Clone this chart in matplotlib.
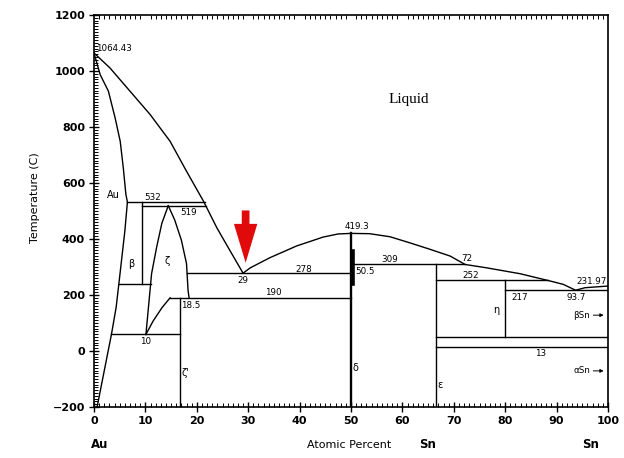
import matplotlib
matplotlib.use('Agg')
import matplotlib.pyplot as plt
from matplotlib.ticker import MultipleLocator

# Au-Sn phase diagram
# liquidus, Au side down to the 29 % eutectic
liq_au_x = [0, 3.1, 7.0, 10.9, 14.8, 18.0, 21.3, 23.9, 26.5, 29.0]
liq_au_t = [1064.43, 1011, 928, 845, 749, 642, 535, 440, 357, 278]
# liquidus, eutectic up to delta (50 %)
liq_mid_x = [29.0, 30.4, 34.2, 39.4, 44.6, 47.5, 50.0]
liq_mid_t = [278, 297, 333, 375, 407, 418, 420]
# liquidus, delta down to Sn
liq_sn_x = [50.0, 53.6, 57.6, 61.5, 65.4, 69.3, 72.2, 76.4, 82.9, 88.3, 91.3, 93.7, 95.5, 100]
liq_sn_t = [420, 419, 408, 386, 363, 339, 309, 297, 276, 252, 238, 217, 226, 231.97]
# Au solid solution boundary (solidus + solvus)
au_ss_x = [0, 1.2, 2.8, 4.1, 5.1, 5.7, 6.2, 6.5, 6.0, 4.9, 4.3, 3.4, 0.6]
au_ss_t = [1064.43, 987, 928, 833, 749, 654, 560, 532, 428, 250, 155, 60, -200]
# zeta phase field
zeta_left_x = [14.45, 13.2, 12.2, 11.2, 10.6, 10.1]
zeta_left_t = [519, 456, 372, 276, 157, 59]
zeta_right_x = [14.45, 15.7, 17.0, 18.0, 18.3, 18.5]
zeta_right_t = [519, 468, 396, 312, 216, 190]
zeta_low_x = [10.1, 11.5, 13.2, 14.8]
zeta_low_t = [59, 107, 154, 190]

# invariant lines: (x start, x end, temperature)
horiz = [(6.5, 21.6, 532), (9.3, 21.8, 519), (4.8, 11.0, 240), (3.4, 16.7, 59),
         (14.8, 50, 190), (18.0, 50, 278), (50.5, 72.2, 309), (66.5, 88.3, 252),
         (80, 100, 217), (66.5, 100, 50), (66.5, 100, 13)]
# compound lines: (x, t bottom, t top)
vert = [(9.3, 240, 532), (16.7, -200, 190), (66.5, -200, 309), (80, 50, 252)]

# text labels: (x, t, text)
small_labels = [(0.3, 1081, '1064.43', 'left'), (11.4, 548, '532', 'center'),
                (18.4, 494, '519', 'center'), (18.9, 164, '18.5', 'center'),
                (10.1, 33, '10', 'center'), (29.0, 252, '29', 'center'),
                (40.9, 292, '278', 'center'), (34.8, 208, '190', 'center'),
                (51.1, 443, '419.3', 'center'), (52.7, 283, '50.5', 'center'),
                (57.6, 325, '309', 'center'), (72.5, 331, '72', 'center'),
                (73.2, 268, '252', 'center'), (82.9, 190, '217', 'center'),
                (93.9, 190, '93.7', 'center'), (96.8, 250, '231.97', 'center'),
                (86.8, -10, '13', 'center')]
phase_labels = [(3.7, 557, 'Au'), (7.3, 312, 'β'), (14.3, 321, 'ζ'),
                (17.7, -77, "ζ'"), (50.8, -60, 'δ'), (67.3, -121, 'ε'),
                (78.3, 145, 'η')]

fig = plt.figure(figsize=(6.24, 4.58), dpi=100)
ax = fig.add_axes([94 / 624, 1 - 407 / 458, 514 / 624, 392 / 458])

lk = dict(color='k', lw=1.0)
ax.plot(liq_au_x, liq_au_t, **lk)
ax.plot(liq_mid_x, liq_mid_t, **lk)
ax.plot(liq_sn_x, liq_sn_t, **lk)
ax.plot(au_ss_x, au_ss_t, **lk)
ax.plot(zeta_left_x, zeta_left_t, **lk)
ax.plot(zeta_right_x, zeta_right_t, **lk)
ax.plot(zeta_low_x, zeta_low_t, **lk)
for x0, x1, t in horiz:
    ax.plot([x0, x1], [t, t], **lk)
for x, t0, t1 in vert:
    ax.plot([x, x], [t0, t1], **lk)
# delta (AuSn) line, drawn heavier with its narrow range
ax.plot([50, 50], [-200, 420], color='k', lw=1.7)
ax.plot([50.3, 50.3], [238, 357], color='k', lw=2.6)

for x, t, s, ha in small_labels:
    ax.text(x, t, s, fontsize=6.3, ha=ha, va='center')
for x, t, s in phase_labels:
    ax.text(x, t, s, fontsize=7, ha='center', va='center')

ax.text(61.3, 898, 'Liquid', fontsize=11, family='Liberation Serif',
        ha='center', va='center')

# beta Sn / alpha Sn pointers
ax.annotate('', xy=(99.7, 128), xytext=(96.6, 128),
            arrowprops=dict(arrowstyle='-|>', color='k', lw=0.7,
                            mutation_scale=5))
ax.text(96.5, 128, 'βSn', fontsize=6.3, ha='right', va='center')
ax.annotate('', xy=(99.7, -71), xytext=(96.6, -71),
            arrowprops=dict(arrowstyle='-|>', color='k', lw=0.7,
                            mutation_scale=5))
ax.text(96.5, -71, 'αSn', fontsize=6.3, ha='right', va='center')

# red marker arrow at the eutectic
ax.arrow(29.5, 502, 0, -187, width=1.5, head_width=4.55, head_length=139,
         length_includes_head=True, fc='#e00a0a', ec='none', zorder=5)

ax.set_xlim(0, 100)
ax.set_ylim(-200, 1200)
ax.xaxis.set_major_locator(MultipleLocator(10))
ax.xaxis.set_minor_locator(MultipleLocator(1))
ax.yaxis.set_major_locator(MultipleLocator(200))
ax.yaxis.set_minor_locator(MultipleLocator(10))
ax.tick_params(which='major', direction='inout', length=7, width=1.0,
               labelsize=8, pad=3)
ax.tick_params(which='minor', direction='in', length=3, width=0.7)
ax.tick_params(axis='x', which='minor', top=True)
for lab in ax.get_xticklabels() + ax.get_yticklabels():
    lab.set_fontweight('bold')
for sp in ax.spines.values():
    sp.set_linewidth(1.2)

fig.text(35 / 624, 1 - 198 / 458, 'Temperature (C)', rotation=90, fontsize=8,
         ha='center', va='center')
fig.text(100 / 624, 1 - 445 / 458, 'Au', fontsize=8.5, fontweight='bold',
         ha='center', va='center')
fig.text(349 / 624, 1 - 445 / 458, 'Atomic Percent', fontsize=8,
         ha='center', va='center')
fig.text(428 / 624, 1 - 445 / 458, 'Sn', fontsize=8.5, fontweight='bold',
         ha='center', va='center')
fig.text(591 / 624, 1 - 445 / 458, 'Sn', fontsize=8.5, fontweight='bold',
         ha='center', va='center')

fig.savefig('out.png', dpi=100)
